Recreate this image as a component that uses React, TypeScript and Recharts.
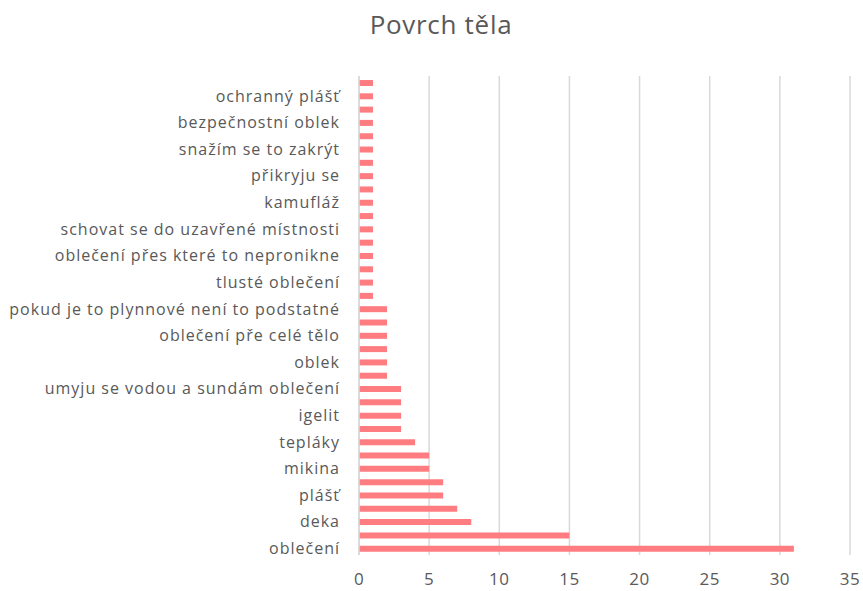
import { BarChart, Bar, XAxis, YAxis, CartesianGrid } from 'recharts';

// shown labels, from the bottom of the chart upwards (every other bar carries one)
const labels = [
  'oblečení',
  'deka',
  'plášť',
  'mikina',
  'tepláky',
  'igelit',
  'umyju se vodou a sundám oblečení',
  'oblek',
  'oblečení pře celé tělo',
  'pokud je to plynnové není to podstatné ',
  'tlusté oblečení',
  'oblečení přes které to nepronikne',
  'schovat se do uzavřené místnosti',
  'kamufláž',
  'přikryju se',
  'snažím se to zakrýt',
  'bezpečnostní oblek',
  'ochranný plášť',
];

// counts for all 36 bars, from the bottom upwards
const values = [
  31, 15, 8, 7, 6, 6, 5, 5, 4, 3, 3, 3, 3, 2, 2, 2, 2, 2, 2,
  1, 1, 1, 1, 1, 1, 1, 1, 1, 1, 1, 1, 1, 1, 1, 1, 1,
];

const xTicks = [0, 5, 10, 15, 20, 25, 30, 35];

// top row first, as recharts puts index 0 at the top
const data = values
  .map((v, i) => ({ idx: String(i), label: i % 2 === 0 ? labels[i / 2] ?? '' : '', value: v }))
  .reverse();

const labelOf = Object.fromEntries(data.map((d) => [d.idx, d.label]));

const font = '"Open Sans", sans-serif';

export default function App() {
  return (
    <div style={{ position: 'absolute', left: 0, top: 0, width: 863, height: 591, background: '#fff', fontFamily: font }}>
      <div
        style={{
          position: 'absolute',
          top: 6,
          left: 0,
          width: 882,
          textAlign: 'center',
          fontSize: 26,
          letterSpacing: 0.7,
          color: '#595959',
        }}
      >
        Povrch těla
      </div>
      <BarChart
        width={863}
        height={591}
        data={data}
        layout="vertical"
        barSize={6}
        margin={{ top: 76, right: 13, left: 0, bottom: 0 }}
      >
        <CartesianGrid horizontal={false} stroke="#d9d9d9" strokeWidth={1.5} />
        <XAxis
          type="number"
          domain={[0, 35]}
          ticks={xTicks}
          height={36}
          axisLine={false}
          tickLine={false}
          tickMargin={12}
          tick={{ fill: '#595959', fontSize: 17, fontFamily: font, letterSpacing: 0.5 }}
        />
        <YAxis
          type="category"
          dataKey="idx"
          width={359}
          interval={0}
          axisLine={{ stroke: '#d9d9d9', strokeWidth: 1.5 }}
          tickLine={false}
          tickMargin={13}
          tickFormatter={(v: string) => labelOf[v] ?? ''}
          tick={{ fill: '#595959', fontSize: 16, fontFamily: font, letterSpacing: 1 }}
        />
        <Bar dataKey="value" fill="#ff7c80" isAnimationActive={false} />
      </BarChart>
    </div>
  );
}
